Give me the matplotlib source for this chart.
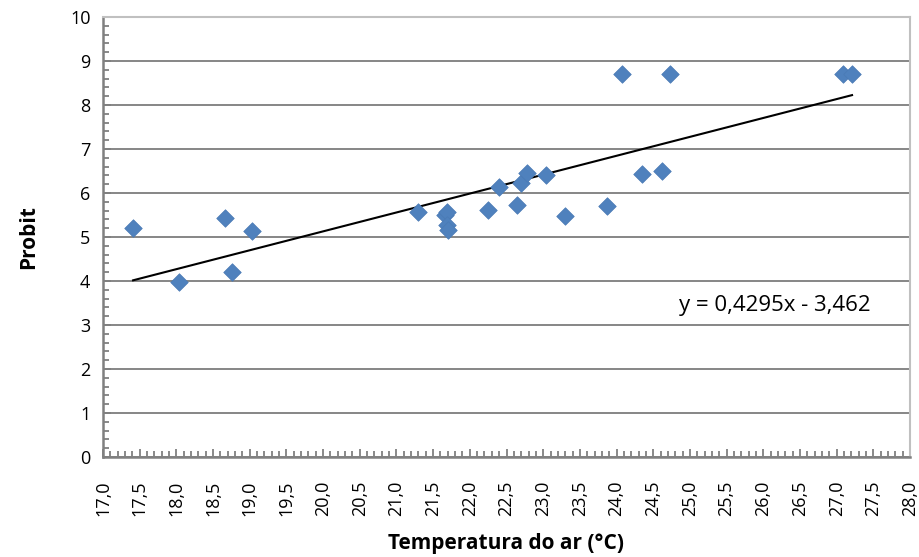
import matplotlib
matplotlib.use('Agg')
from matplotlib import pyplot as plt
from matplotlib.ticker import MultipleLocator, FuncFormatter
import numpy as np

plt.rcParams['font.family'] = ['Open Sans', 'DejaVu Sans']

temperatura = [17.41, 18.04, 18.66, 18.76, 19.03,
               21.29, 21.66, 21.69, 21.69, 21.70,
               22.25, 22.40, 22.64, 22.70, 22.78,
               23.04, 23.30, 23.87, 24.07, 24.35,
               24.62, 24.73, 27.09, 27.21]
probit = [5.20, 3.98, 5.43, 4.20, 5.14,
          5.57, 5.50, 5.57, 5.27, 5.16,
          5.61, 6.14, 5.73, 6.23, 6.45,
          6.41, 5.48, 5.70, 8.70, 6.43,
          6.50, 8.70, 8.70, 8.70]
slope, intercept = 0.4295, -3.462

fig = plt.figure(figsize=(9.2, 5.57), dpi=100)
ax = fig.add_axes([103 / 920, 1 - 457 / 557, 807 / 920, 440 / 557])

ax.set_xlim(17, 28)
ax.set_ylim(0, 10)
ax.yaxis.grid(True, color='#868686', linewidth=1.4)
ax.set_axisbelow(True)

ax.scatter(temperatura, probit, marker='D', s=80, color='#4f81bd',
           edgecolors='#4a7ab5', linewidths=0.5, zorder=3)

xs = np.array([min(temperatura), max(temperatura)])
ax.plot(xs, slope * xs + intercept, color='black', linewidth=1.5, zorder=2)
ax.text(24.85, 3.45, 'y = 0,4295x - 3,462', fontsize=16, va='center')

ax.xaxis.set_major_locator(MultipleLocator(0.5))
ax.xaxis.set_minor_locator(MultipleLocator(0.1))
ax.yaxis.set_major_locator(MultipleLocator(1))
ax.yaxis.set_minor_locator(MultipleLocator(0.2))
ax.xaxis.set_major_formatter(FuncFormatter(lambda v, p: f'{v:.1f}'.replace('.', ',')))
ax.tick_params(axis='both', which='both', direction='in', color='#808080', width=1.3)
ax.tick_params(axis='both', which='major', length=6, labelsize=13)
ax.tick_params(axis='both', which='minor', length=4)
ax.tick_params(axis='x', labelrotation=90, pad=17)
ax.tick_params(axis='y', pad=9)

for side in ['left', 'bottom']:
    ax.spines[side].set_color('#808080')
    ax.spines[side].set_linewidth(1.8)
for side in ['top', 'right']:
    ax.spines[side].set_color('#c0c0c0')
    ax.spines[side].set_linewidth(1.5)

ax.set_xlabel('Temperatura do ar (°C)', fontsize=15, fontweight='bold', labelpad=12)
ax.set_ylabel('Probit', fontsize=15, fontweight='bold', labelpad=22)

fig.savefig('out.png', dpi=100)
